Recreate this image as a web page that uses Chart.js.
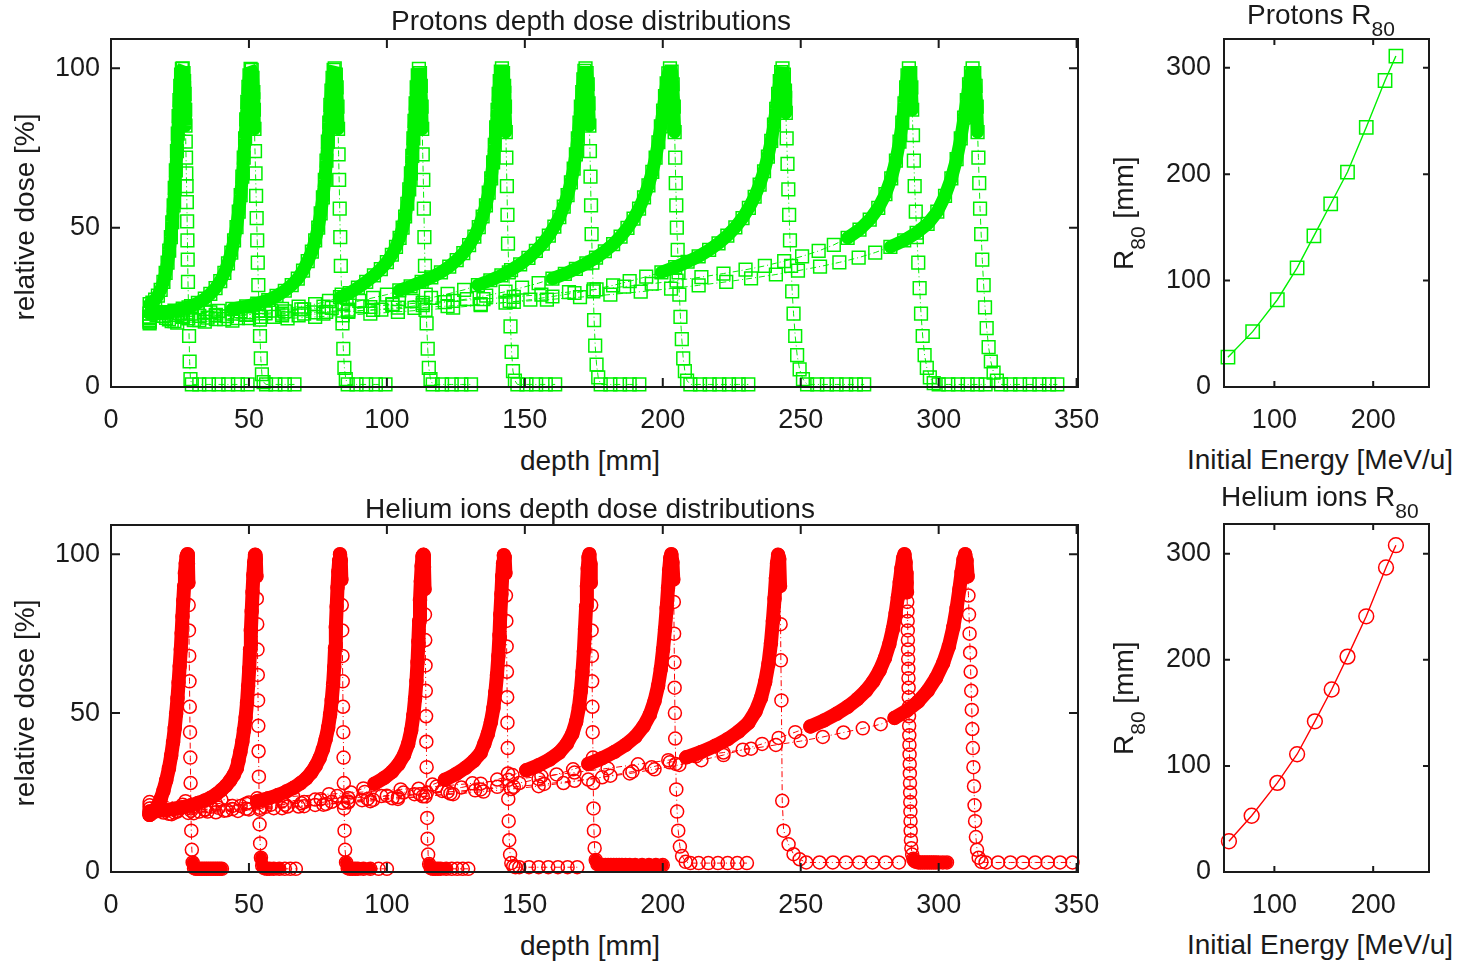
<!DOCTYPE html>
<html lang="en">
<head>
    <meta charset="UTF-8">
    <title>Protons and helium ions depth dose distributions</title>
    <script src="https://cdn.jsdelivr.net/npm/chart.js"></script>
    <style>
        body { margin: 0; background: #fff; width: 1466px; height: 962px; position: relative; overflow: hidden; }
        canvas { position: absolute; }
        .lbl { position: absolute; white-space: nowrap; font: 28px 'Liberation Sans', Arial, sans-serif; line-height: 1; color: #1a1a1a; }
        .mid { transform: translate(-50%, -50%); }
        .rot { transform: translate(-50%, -50%) rotate(-90deg); }
        .rotl { transform-origin: left top; transform: rotate(-90deg); }
        sub { font-size: 21px; vertical-align: -12px; line-height: 0; }
    </style>
</head>
<body>
    <canvas id="protonDose" width="1120" height="440" style="left:0;top:0"></canvas>
    <canvas id="protonRange" width="336" height="440" style="left:1130px;top:0"></canvas>
    <canvas id="heliumDose" width="1120" height="440" style="left:0;top:485px"></canvas>
    <canvas id="heliumRange" width="336" height="440" style="left:1130px;top:485px"></canvas>

    <div class="lbl mid" style="left:591px;top:21px">Protons depth dose distributions</div>
    <div class="lbl mid" style="left:590px;top:461px">depth [mm]</div>
    <div class="lbl rot" style="left:25px;top:217px">relative dose [%]</div>
    <div class="lbl" style="left:1247px;top:1px">Protons R<sub>80</sub></div>
    <div class="lbl mid" style="left:1320px;top:460px">Initial Energy [MeV/u]</div>
    <div class="lbl rotl" style="left:1110px;top:270px">R<sub>80</sub> [mm]</div>

    <div class="lbl mid" style="left:590px;top:509px">Helium ions depth dose distributions</div>
    <div class="lbl mid" style="left:590px;top:946px">depth [mm]</div>
    <div class="lbl rot" style="left:25px;top:703px">relative dose [%]</div>
    <div class="lbl" style="left:1221px;top:483px">Helium ions R<sub>80</sub></div>
    <div class="lbl mid" style="left:1320px;top:945px">Initial Energy [MeV/u]</div>
    <div class="lbl rotl" style="left:1110px;top:755px">R<sub>80</sub> [mm]</div>

    <script>
        // tick labels
        const depthTicks = [0, 50, 100, 150, 200, 250, 300, 350];
        const doseTicks = [0, 50, 100];
        const energyTicks = [100, 200];
        const rangeTicks = [0, 100, 200, 300];

        // R80 vs initial energy
        const protonEnergy = [53, 78, 103, 123, 140, 157, 174, 193, 212, 223];
        const protonR80 = [28, 52, 82, 112, 142, 172, 202, 244, 288, 311];
        const heliumEnergy = [54, 77, 103, 123, 141, 158, 174, 193, 213, 223];
        const heliumR80 = [29, 53, 84, 111, 142, 172, 203, 241, 287, 308];

        // proton depth dose curves, [depth mm, dose %]
        const proton1 = [[14,26],[15,26.5],[16,27.4],[17,28.7],[18,30.5],[19,33],[19.8,35.8],[20.5,39],[21.1,42.8],[21.7,47],[22.2,51.7],[22.7,57],[23.1,62.5],[23.5,68],[23.9,74],[24.2,79.5],[24.5,85],[24.8,90],[25.1,94.5],[25.4,98],[25.7,99.8],[26,100],[26.3,98.5],[26.5,96],[26.7,92],[26.9,87],[27,82],[27.1,77],[27.2,72],[27.3,67],[27.4,63],[27.5,58],[27.6,52],[27.7,46],[27.8,40],[27.9,33],[28.1,25],[28.3,16],[28.5,8],[28.8,2.5],[29.3,0.8],[32,0.8],[35.5,0.8],[39,0.8],[42.5,0.8],[46,0.8],[49.5,0.8]];
        const proton2 = [[14,23],[17,23.2],[20,23.5],[23,24],[26,24.6],[29,25.4],[31.5,26.4],[34,27.7],[36,29.2],[37.9,31],[39.6,33.2],[41.1,35.8],[42.4,38.8],[43.6,42.2],[44.6,46],[45.5,50.2],[46.3,55],[47,60.2],[47.6,66],[48.1,72],[48.6,78],[49,84],[49.4,89.5],[49.8,94.2],[50.2,97.8],[50.6,99.8],[51,99.5],[51.3,97],[51.6,92.5],[51.8,87],[52,81],[52.2,74],[52.4,67],[52.6,60],[52.8,53],[53,46],[53.2,39],[53.4,32],[53.7,24],[54,16],[54.3,9],[54.7,4],[55.3,1.5],[56.2,0.8],[59.6,0.8],[63,0.8],[66.5,0.8]];
        const proton3 = [[14,22],[19,22.3],[24,22.6],[29,23],[34,23.4],[39,23.9],[44,24.5],[49,25.3],[53,26.2],[57,27.3],[60,28.6],[63,30.2],[65.5,32],[67.7,34],[69.6,36.5],[71.3,39.5],[72.8,42.5],[74,46],[75.1,50],[76,54.5],[76.8,59.5],[77.5,65],[78.1,71],[78.6,77],[79.1,83],[79.5,88.5],[79.9,93],[80.3,97],[80.7,99.5],[81.1,100],[81.5,98],[81.8,94],[82.1,88],[82.3,81],[82.5,73],[82.7,65],[82.9,56],[83.1,47],[83.3,38],[83.6,29],[83.9,20],[84.2,12],[84.6,6],[85.1,2.5],[85.8,0.8],[89,0.8],[92.5,0.8],[96,0.8],[99.5,0.8]];
        const proton4 = [[14,21.5],[20,21.7],[26,22],[32,22.3],[38,22.6],[44,23],[50,23.4],[56,23.9],[62,24.5],[68,25.2],[74,26],[79,27],[83,28.2],[86.5,29.5],[89.5,31.2],[92.5,33],[95.3,35],[97.8,37],[100,39.2],[101.8,41.5],[103.3,44],[104.6,46.8],[105.7,50],[106.6,53.5],[107.4,57.5],[108.1,62],[108.7,67],[109.2,72.5],[109.6,78],[110,83.5],[110.4,89],[110.8,94],[111.2,97.8],[111.6,99.8],[112,98.5],[112.3,94.5],[112.6,88],[112.8,81],[113,73],[113.2,65],[113.4,56],[113.6,47],[113.8,38],[114.1,29],[114.4,20],[114.8,12],[115.2,6],[115.8,2.5],[116.6,0.8],[120,0.8],[123.5,0.8],[127,0.8],[130.5,0.8]];
        const proton5 = [[14,21],[21,21.2],[28,21.5],[35,21.8],[42,22.2],[49,22.6],[56,23.1],[63,23.7],[70,24.4],[77,25.2],[84,26],[90,27],[95,28],[100,29],[104.5,30.3],[108.6,31.6],[112.6,33],[116.1,34.4],[119.6,36],[122.6,37.8],[125.3,39.8],[127.7,42],[129.8,44.5],[131.7,47.2],[133.3,50.2],[134.7,53.5],[135.9,57],[136.9,61],[137.8,65.5],[138.5,70.5],[139.1,76],[139.6,81.5],[140.1,87],[140.5,92],[140.9,96],[141.3,99],[141.7,100],[142.1,98.5],[142.5,94.5],[142.8,88],[143.1,80],[143.3,72],[143.5,63],[143.7,54],[143.9,45],[144.2,36],[144.5,27],[144.8,19],[145.2,11],[145.7,5],[146.4,2],[147.3,0.8],[150.6,0.8],[154.1,0.8],[157.6,0.8],[161,0.8]];
        const proton6 = [[14,20.5],[22,20.7],[30,21],[38,21.3],[46,21.6],[54,22],[62,22.5],[70,23],[78,23.6],[86,24.3],[94,25.1],[102,26],[109,27],[116,28],[122,29.2],[128,30.5],[133,32],[137.5,33.5],[141.5,35],[145,36.7],[148.3,38.5],[151.3,40.5],[154,42.7],[156.5,45],[158.7,47.5],[160.7,50.3],[162.5,53.3],[164.1,56.6],[165.5,60.2],[166.7,64.2],[167.7,68.5],[168.5,73],[169.2,78],[169.8,83],[170.3,88],[170.8,92.5],[171.2,96.5],[171.6,99.2],[172,100],[172.4,98.5],[172.8,95],[173.1,89],[173.4,82],[173.6,74],[173.8,66],[174,57],[174.2,48],[174.5,39],[174.8,30],[175.1,21],[175.5,13],[176,7],[176.6,3],[177.5,0.8],[181,0.8],[184.5,0.8],[188,0.8],[191.5,0.8]];
        const proton7 = [[14,20.5],[23,20.7],[32,21],[41,21.3],[50,21.6],[59,22],[68,22.5],[77,23],[86,23.6],[95,24.2],[104,24.9],[113,25.7],[121,26.6],[129,27.6],[136,28.7],[143,29.9],[149,31.2],[155,32.6],[160,34],[164.5,35.5],[168.5,37.1],[172.3,38.8],[175.8,40.6],[179,42.6],[182,44.8],[184.7,47.2],[187.2,49.9],[189.4,52.8],[191.4,56],[193.2,59.5],[194.8,63.3],[196.2,67.5],[197.4,72],[198.4,76.8],[199.3,81.8],[200.1,86.7],[200.8,91.3],[201.4,95.3],[202,98.4],[202.6,100],[203.2,99],[203.6,95],[204,88],[204.3,80],[204.5,72],[204.7,64],[204.9,57],[205.1,50],[205.4,43],[205.7,36],[206,29],[206.4,22],[206.9,15],[207.4,9],[208,5],[208.8,2],[210,0.8],[213.5,0.8],[217,0.8],[220.5,0.8],[224,0.8],[227.5,0.8],[231,0.8]];
        const proton8 = [[14,20],[24,20.2],[34,20.5],[44,20.8],[54,21.1],[64,21.5],[74,22],[84,22.5],[94,23],[104,23.6],[114,24.2],[124,24.9],[134,25.7],[143,26.5],[152,27.4],[160,28.4],[168,29.5],[175,30.6],[182,31.9],[188,33.2],[194,34.6],[199.5,36],[204.5,37.6],[209,39.3],[213,41],[216.8,43],[220.2,45.1],[223.4,47.5],[226.3,50.1],[228.9,53],[231.2,56.2],[233.3,59.7],[235.1,63.5],[236.7,67.7],[238.1,72.3],[239.3,77.2],[240.3,82.3],[241.1,87.3],[241.8,92],[242.4,96],[242.9,98.8],[243.4,100],[243.9,98],[244.3,93],[244.6,86],[244.9,78],[245.2,70],[245.5,62],[245.8,54],[246.1,46],[246.5,38],[246.9,30],[247.4,23],[248,16],[248.7,10],[249.6,5.5],[250.8,2.5],[252.3,0.8],[256,0.8],[259.5,0.8],[263,0.8],[266.5,0.8],[270,0.8],[273,0.8]];
        const proton9 = [[14,23],[25,23.2],[36,23.4],[47,23.7],[58,24],[69,24.4],[80,24.8],[91,25.3],[102,25.8],[113,26.4],[124,27],[135,27.6],[146,28.3],[156,29],[166,29.8],[176,30.6],[186,31.5],[196,32.4],[205,33.4],[214,34.5],[222,35.6],[230,36.8],[237,38],[244,39.5],[250.5,41],[256.5,42.7],[262,44.6],[267,46.8],[271.3,49.4],[275,52.5],[278.1,56.2],[280.7,60.5],[282.8,65.5],[284.5,71],[285.8,77],[286.8,83],[287.6,89],[288.2,94],[288.7,97.8],[289.2,100],[289.7,98.5],[290.1,94],[290.4,87],[290.7,79],[291,71],[291.3,63],[291.7,55],[292.1,47],[292.6,39],[293.1,31],[293.6,23],[294.2,16],[294.9,10],[295.7,6],[296.8,3],[298.2,1.2],[300,0.8],[303.5,0.8],[307,0.8],[310.5,0.8],[314,0.8],[317,0.8]];
        const proton10 = [[14,22],[26,22.2],[38,22.4],[50,22.7],[62,23],[74,23.4],[86,23.8],[98,24.3],[110,24.8],[122,25.4],[134,26],[146,26.7],[158,27.4],[170,28.2],[181,29],[192,29.9],[203,30.9],[213,31.9],[223,33],[232,34.1],[241,35.3],[249,36.5],[257,37.8],[264,39.1],[271,40.6],[277,42.2],[282.5,44],[287.5,46],[292,48.4],[296,51.2],[299.5,55],[302.3,60],[304.6,65.5],[306.5,71.5],[308,78],[309.2,84.5],[310.2,90],[311,95],[311.7,98.5],[312.3,100],[312.9,98.5],[313.4,94.5],[313.8,88],[314.1,80],[314.4,72],[314.7,64],[315,56],[315.4,48],[315.8,40],[316.3,32],[316.8,25],[317.4,18.5],[318.1,12.5],[318.9,8],[319.9,4.5],[321.1,2],[322.6,0.8],[326,0.8],[329.5,0.8],[333,0.8],[336.5,0.8],[340,0.8],[343,0.8]];

        // helium ion depth dose curves, [depth mm, dose %]
        const helium1 = [[14,18],[15,18.6],[16,19.6],[17,21],[18,23],[19,25.6],[20,28.8],[21,32.6],[21.8,36.6],[22.5,40.8],[23.1,45.2],[23.6,49.8],[24.1,54.6],[24.5,59.6],[24.9,64.8],[25.3,70],[25.6,75.2],[25.9,80.4],[26.2,85.4],[26.5,90],[26.8,94],[27.1,97.2],[27.4,99.4],[27.7,100],[27.9,97],[28.05,91],[28.15,84],[28.25,76],[28.35,68],[28.45,60],[28.55,52],[28.65,44],[28.75,36],[28.85,28],[28.95,20],[29.1,13],[29.3,7],[29.6,3],[30.1,1.2],[30.8,1],[31.5,1],[32.2,1],[33,1],[33.8,1],[34.6,1],[35.4,1],[36.2,1],[37,1],[37.8,1],[38.6,1],[39.4,1],[40.2,1]];
        const helium2 = [[14,19],[17,19.2],[20,19.5],[23,19.9],[26,20.4],[29,21],[31.5,21.7],[34,22.5],[36.2,23.4],[38.2,24.5],[40,25.8],[41.7,27.2],[43.2,28.8],[44.5,30.6],[45.6,32.6],[46.2,35],[46.9,37.8],[47.6,41],[48.2,44.6],[48.8,48.7],[49.3,53.3],[49.7,58.5],[50.1,64],[50.4,70],[50.7,76],[51,82],[51.3,88],[51.6,93.5],[51.9,97.5],[52.2,99.8],[52.5,98.5],[52.7,93],[52.85,86],[53,78],[53.1,70],[53.2,62],[53.3,54],[53.4,46],[53.5,38],[53.6,30],[53.7,22],[53.85,15],[54.05,9],[54.35,4.5],[54.8,2],[55.5,1.2],[56.5,1],[57.5,1],[59,1],[61,1],[63,1],[65,1],[67,1]];
        const helium3 = [[14,18.5],[19,18.7],[24,19],[29,19.3],[34,19.7],[39,20.2],[44,20.8],[49,21.5],[53,22.3],[57,23.2],[60.5,24.2],[63.5,25.3],[66.2,26.5],[68.6,27.9],[70.8,29.5],[72.6,31.3],[74.2,33.4],[75.6,35.8],[76.8,38.6],[77.8,41.8],[78.7,45.4],[79.4,49.5],[80,54],[80.5,59],[80.9,64.5],[81.2,70.5],[81.5,77],[81.8,83.5],[82.1,89.5],[82.4,94.5],[82.7,98],[83,100],[83.3,98],[83.5,92],[83.65,84],[83.8,76],[83.9,68],[84,60],[84.1,52],[84.2,44],[84.3,36],[84.4,28],[84.5,20],[84.65,13],[84.85,7],[85.2,3],[85.8,1.2],[86.6,1],[87.5,1],[88.5,1],[89.5,1],[91.5,1],[94,1],[97,1],[100,1]];
        const helium4 = [[14,18],[21,18.3],[28,18.6],[35,19],[42,19.4],[49,19.9],[56,20.5],[63,21.2],[70,22],[76,22.9],[82,23.9],[87,25],[91.5,26.3],[95.5,27.8],[99,29.6],[101.8,31.5],[104.2,33.9],[106.2,36.8],[107.7,40.3],[108.8,44.5],[109.6,49.3],[110.2,54.5],[110.7,60],[111.1,66],[111.4,72.5],[111.7,79],[112,85.5],[112.3,91.5],[112.6,96.3],[112.9,99.4],[113.2,99.8],[113.45,96],[113.65,89],[113.8,81],[113.9,73],[114,65],[114.1,57],[114.2,49],[114.3,41],[114.4,33],[114.5,25],[114.6,17],[114.75,10.5],[114.95,5.5],[115.3,2.5],[115.9,1.2],[116.7,1],[117.5,1],[118.5,1],[119.5,1],[121.5,1],[123.5,1],[125.5,1],[127.5,1],[129.5,1]];
        const helium5 = [[14,18],[22,18.2],[30,18.5],[38,18.8],[46,19.2],[54,19.6],[62,20.1],[70,20.7],[78,21.4],[86,22.2],[93,23],[100,24],[106,25],[111.5,26.2],[116.5,27.5],[121,29],[125,30.8],[128.5,32.8],[131.5,35],[134,37.5],[135.3,40.3],[136.6,43.5],[137.7,47.2],[138.6,51.5],[139.3,56.5],[139.9,62],[140.4,68],[140.8,74.5],[141.1,81],[141.5,87.5],[141.8,93],[142.1,97.2],[142.4,99.7],[142.7,99],[142.95,94],[143.15,87],[143.3,79],[143.4,71],[143.5,63],[143.6,55],[143.7,47],[143.8,39],[143.9,31],[144,23],[144.15,16],[144.35,10],[144.65,5.5],[145.1,2.8],[145.8,1.8],[146.6,1.5],[148,1.5],[151.5,1.5],[155,1.5],[158.5,1.5],[162,1.5],[165.5,1.5],[169,1.5]];
        const helium6 = [[14,18.5],[23,18.7],[32,19],[41,19.3],[50,19.7],[59,20.1],[68,20.6],[77,21.2],[86,21.9],[95,22.7],[104,23.6],[112,24.5],[120,25.5],[127,26.6],[134,27.8],[140,29.1],[145.5,30.5],[150.5,32],[155,33.6],[159,35.4],[162.5,37.6],[165.2,40.3],[167.2,43.5],[168.6,47.3],[169.6,51.8],[170.3,57],[170.9,63],[171.4,69.5],[171.8,76.5],[172.2,83.5],[172.5,90],[172.8,95.5],[173.1,99],[173.4,100],[173.7,97],[173.9,91],[174.05,84],[174.2,76],[174.3,68],[174.4,60],[174.5,52],[174.6,44],[174.7,36],[174.8,28],[174.9,20],[175.05,13],[175.3,7.5],[175.7,3.8],[176.3,2.5],[177.2,2.2],[178.2,2.2],[179.2,2.2],[180.2,2.2],[181.2,2.2],[182.2,2.2],[183.2,2.2],[184.2,2.2],[185.2,2.2],[186.5,2.2],[188,2.2],[190,2.2],[192.5,2.2],[195,2.2],[197.5,2.2],[200,2.2]];
        const helium7 = [[14,19],[24,19.2],[34,19.5],[44,19.8],[54,20.2],[64,20.6],[74,21.1],[84,21.7],[94,22.3],[104,23],[114,23.8],[123,24.7],[132,25.7],[140,26.8],[148,28],[155,29.3],[161.5,30.7],[167.5,32.3],[173,34],[178,35.8],[182.5,37.8],[186.5,40],[190,42.5],[193,45.8],[195.3,49.5],[197,53.8],[198.3,58.6],[199.3,64],[200.1,70],[200.8,76.4],[201.4,83],[201.9,89.4],[202.3,95],[202.7,98.8],[203.1,100],[203.5,97.5],[203.8,92],[204,85],[204.1,75],[204.2,66],[204.3,58],[204.4,50],[204.5,42],[204.7,34],[204.9,26],[205.2,19],[205.6,13],[206.2,8],[207,5],[208.3,3.2],[210,2.8],[213,2.8],[216.5,2.8],[220,2.8],[223.5,2.8],[227,2.8],[230.5,2.8]];
        const helium8 = [[14,20],[25,20.2],[36,20.5],[47,20.8],[58,21.2],[69,21.6],[80,22.1],[91,22.6],[102,23.2],[113,23.8],[124,24.5],[135,25.3],[145,26.1],[155,27],[164,28],[173,29.1],[181,30.3],[189,31.6],[196,33],[202.5,34.5],[208.5,36.1],[214,37.8],[219,39.7],[223.5,41.8],[227.5,44.2],[231,46.9],[233.6,50.5],[235.6,54.8],[237.1,59.8],[238.3,65.5],[239.2,72],[239.9,79],[240.5,86],[241,92.5],[241.4,97.2],[241.8,99.8],[242.2,98.5],[242.5,90],[242.7,78],[242.8,66.6],[243,54],[243.3,22.4],[243.8,13],[245.6,8.7],[247.4,5.6],[249.6,4],[252,3],[256.8,3],[261.6,3],[266.4,3],[271.2,3],[276,3],[280.8,3],[285.6,3]];
        const helium9 = [[14,21],[26,21.2],[38,21.5],[50,21.9],[62,22.3],[74,22.8],[86,23.3],[98,23.9],[110,24.5],[122,25.2],[134,26],[146,26.8],[157,27.7],[168,28.7],[178,29.8],[188,31],[197,32.3],[206,33.7],[214,35.2],[222,36.8],[229,38.5],[236,40.3],[242,42.2],[248,44],[253.5,45.8],[258.5,47.7],[263,49.8],[267,52],[270.5,54.4],[273.6,57],[276.3,60],[278.6,63.4],[280.5,67.3],[282.1,71.7],[283.4,76.5],[284.4,81.5],[285.2,86.5],[285.9,91.3],[286.5,95.5],[287.1,98.8],[287.6,100],[288,97.5],[288.2,94],[288.35,91],[288.5,88],[288.6,85],[288.7,82],[288.75,79],[288.8,76],[288.85,73],[288.9,70],[288.95,67],[289,64],[289.05,61],[289.1,58],[289.15,55],[289.2,52],[289.25,49],[289.3,46],[289.35,43],[289.4,40],[289.45,37],[289.5,34],[289.55,31],[289.6,28],[289.65,25],[289.7,22],[289.75,19],[289.8,16],[289.85,13],[289.95,10],[290.1,7.5],[290.4,5.5],[290.8,4.2],[291.2,3.5],[291.8,3.2],[292.6,3],[293.4,3],[294.2,3],[295,3],[295.8,3],[296.6,3],[297.4,3],[298.2,3],[299,3],[300,3],[301.5,3],[303,3]];
        const helium10 = [[14,22],[27,22.3],[40,22.7],[53,23.2],[66,23.8],[79,24.5],[92,25.2],[105,26],[118,26.9],[131,27.9],[144,29],[156,30.1],[168,31.3],[180,32.6],[191,33.9],[202,35.2],[212,36.4],[222,37.6],[232,38.8],[241,40],[250,41.2],[258,42.5],[265.5,43.9],[272.5,45.2],[279,46.5],[284,48.5],[288.5,50.8],[292.5,53.6],[296,57],[299,61],[301.6,65.7],[303.7,71],[305.3,77],[306.5,83],[307.5,89],[308.3,94.3],[309,98.3],[309.6,100],[310.1,98],[310.5,93],[310.8,87],[311,81],[311.2,75],[311.4,69],[311.6,63],[311.8,57],[312,51],[312.2,45],[312.4,39],[312.6,33],[312.8,27],[313,21],[313.2,16],[313.5,11],[313.9,7],[314.5,4.5],[315.5,3.2],[317,3],[321.5,3],[326,3],[330.5,3],[335,3],[339.5,3],[344,3],[348.5,3]];

        const protonCurves = [proton1, proton2, proton3, proton4, proton5, proton6, proton7, proton8, proton9, proton10];
        const heliumCurves = [helium1, helium2, helium3, helium4, helium5, helium6, helium7, helium8, helium9, helium10];

        // dose level on the rising edge where overlapping markers merge into a solid band
        const protonBandFrom = [0, 0, 24, 28, 30, 32, 33, 35, 45, 44];
        const heliumBandFrom = [0, 0, 22, 27, 29, 31, 33, 36, 45, 48];
        // depth up to which the helium dose tail is packed solid (0: no solid tail)
        const heliumTailTo = [40.5, 62, 94, 122, 0, 200.5, 0, 0, 303.5, 0];

        const GREEN = 'rgb(0, 240, 0)';
        const RED = 'rgb(255, 0, 0)';
        const INK = '#1a1a1a';
        const tickFont = { family: "'Liberation Sans', Arial, sans-serif", size: 27 };

        // MATLAB style box with inward ticks on all four sides
        const framePlugin = {
            id: 'frame',
            afterDraw(chart, args, opts) {
                const { ctx, chartArea: a, scales: { x, y } } = chart;
                const len = opts.tickLength;
                ctx.save();
                ctx.strokeStyle = INK;
                ctx.lineWidth = 2;
                ctx.strokeRect(a.left, a.top, a.right - a.left, a.bottom - a.top);
                ctx.beginPath();
                x.ticks.forEach(t => {
                    const px = x.getPixelForValue(t.value);
                    ctx.moveTo(px, a.bottom); ctx.lineTo(px, a.bottom - len);
                    ctx.moveTo(px, a.top); ctx.lineTo(px, a.top + len);
                });
                y.ticks.forEach(t => {
                    const py = y.getPixelForValue(t.value);
                    ctx.moveTo(a.left, py); ctx.lineTo(a.left + len, py);
                    ctx.moveTo(a.right, py); ctx.lineTo(a.right - len, py);
                });
                ctx.stroke();
                ctx.restore();
            }
        };

        function axis(min, max, tickValues, fitSize, horizontal, pad) {
            return {
                type: 'linear',
                min: min,
                max: max,
                afterBuildTicks: s => { s.ticks = tickValues.map(v => ({ value: v })); },
                afterFit: s => { if (horizontal) s.height = fitSize; else s.width = fitSize; },
                grid: { display: false, drawTicks: false, tickLength: 0 },
                border: { display: false },
                ticks: { font: tickFont, color: INK, padding: pad, maxRotation: 0, autoSkip: false }
            };
        }

        function makeChart(id, datasets, opts) {
            return new Chart(document.getElementById(id), {
                type: 'scatter',
                data: { datasets: datasets },
                options: {
                    responsive: false,
                    animation: false,
                    events: [],
                    layout: { padding: { top: opts.top, right: opts.right, left: 0, bottom: 0 } },
                    plugins: {
                        legend: { display: false },
                        tooltip: { enabled: false },
                        frame: { tickLength: opts.tickLength }
                    },
                    scales: {
                        x: axis(opts.xMin, opts.xMax, opts.xTicks, 53, true, 17),
                        y: axis(opts.yMin, opts.yMax, opts.yTicks, opts.yWidth, false, opts.yPad)
                    }
                },
                plugins: [framePlugin]
            });
        }

        function peakIndex(curve) {
            let peak = 0;
            curve.forEach((p, i) => { if (p[1] > curve[peak][1]) peak = i; });
            return peak;
        }

        // part of a curve from the rising edge (dose >= from) over the peak
        // down the distal edge while the dose stays >= to
        function bandOf(curve, from, to) {
            const peak = peakIndex(curve);
            let start = peak;
            while (start > 0 && curve[start - 1][1] >= from) start--;
            let end = peak;
            while (end < curve.length - 1 && curve[end + 1][1] >= to) end++;
            return curve.slice(start, end + 1);
        }

        // low dose tail behind the distal edge, up to a given depth
        function tailOf(curve, toDepth) {
            const peak = peakIndex(curve);
            return curve.filter((p, i) => i > peak && p[1] <= 5 && p[0] <= toDepth);
        }

        function toPoints(c) { return c.map(p => ({ x: p[0], y: p[1] })); }

        function solid(points, color, width, join) {
            return {
                data: toPoints(points),
                showLine: true,
                borderColor: color,
                borderWidth: width,
                borderJoinStyle: join,
                borderCapStyle: 'round',
                pointRadius: 0,
                clip: false
            };
        }

        function curveSets(curves, bandFrom, bandTo, color, style, radius, bandWidth, join) {
            const bands = curves.map((c, i) => solid(bandOf(c, bandFrom[i], bandTo), color, bandWidth, join));
            const marks = curves.map(c => ({
                data: toPoints(c),
                showLine: true,
                borderColor: color,
                borderWidth: 1,
                borderDash: [6, 3, 1, 3],
                pointStyle: style,
                pointRadius: radius,
                pointBorderColor: color,
                pointBackgroundColor: 'rgba(0,0,0,0)',
                pointBorderWidth: 1.5,
                clip: false
            }));
            return marks.concat(bands);
        }

        function rangeSet(energy, range, color, style, radius) {
            return [{
                data: energy.map((e, i) => ({ x: e, y: range[i] })),
                showLine: true,
                borderColor: color,
                borderWidth: 1.4,
                pointStyle: style,
                pointRadius: radius,
                pointBorderColor: color,
                pointBackgroundColor: 'rgba(0,0,0,0)',
                pointBorderWidth: 1.5,
                clip: false
            }];
        }

        const doseOpts = { top: 39, right: 42, xMin: 0, xMax: 350.5, xTicks: depthTicks, yMin: 0, yMax: 109.2, yTicks: doseTicks, yWidth: 111, yPad: 11, tickLength: 9 };
        const rangeOpts = { top: 39, right: 37, xMin: 49, xMax: 256.5, xTicks: energyTicks, yMin: 0, yMax: 327, yTicks: rangeTicks, yWidth: 94, yPad: 13, tickLength: 6 };

        const heliumSets = curveSets(heliumCurves, heliumBandFrom, 88, RED, 'circle', 6.5, 14, 'round');
        heliumCurves.forEach((c, i) => {
            if (heliumTailTo[i] > 0) heliumSets.push(solid(tailOf(c, heliumTailTo[i]), RED, 12, 'round'));
        });

        makeChart('protonDose', curveSets(protonCurves, protonBandFrom, 80, GREEN, 'rect', 9, 13, 'bevel'), doseOpts);
        makeChart('protonRange', rangeSet(protonEnergy, protonR80, GREEN, 'rect', 9.4), rangeOpts);
        makeChart('heliumDose', heliumSets, Object.assign({}, doseOpts, { top: 40 }));
        makeChart('heliumRange', rangeSet(heliumEnergy, heliumR80, RED, 'circle', 7.4), Object.assign({}, rangeOpts, { yMax: 328 }));
    </script>
</body>
</html>
